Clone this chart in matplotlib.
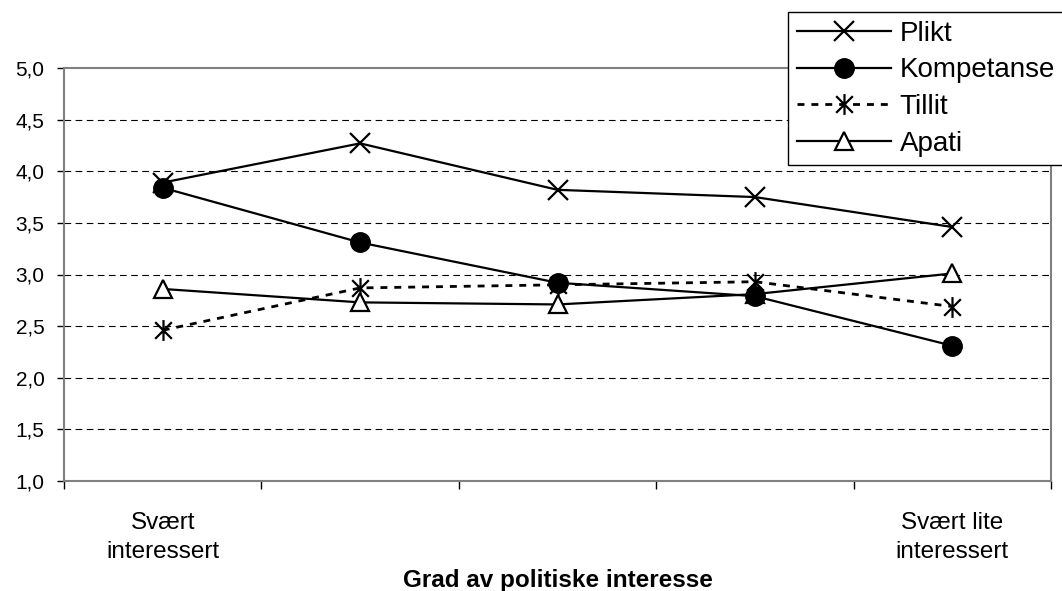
import matplotlib
matplotlib.use("Agg")
import matplotlib.pyplot as plt
from matplotlib.path import Path
import numpy as np

categories = ["Svært\ninteressert", "", "", "", "Svært lite\ninteressert"]
plikt = [3.89, 4.27, 3.82, 3.75, 3.46]
kompetanse = [3.84, 3.31, 2.92, 2.79, 2.31]
tillit = [2.46, 2.87, 2.90, 2.93, 2.69]
apati = [2.86, 2.73, 2.71, 2.81, 3.01]
y_ticks = [1.0, 1.5, 2.0, 2.5, 3.0, 3.5, 4.0, 4.5, 5.0]
y_ticklabels = ["1,0", "1,5", "2,0", "2,5", "3,0", "3,5", "4,0", "4,5", "5,0"]
x_title = "Grad av politiske interesse"

plt.rcParams['font.family'] = ['Liberation Sans', 'DejaVu Sans']

fig = plt.figure(figsize=(10.62, 5.91), dpi=100)
ax = fig.add_axes([64/1062, 1-481/591, (1051-64)/1062, (481-68)/591])

x = np.arange(len(categories))
# asterisk marker: vertical bar plus an X
star_path = Path(
    [(0, -1), (0, 1), (-0.8, -0.8), (0.8, 0.8), (-0.8, 0.8), (0.8, -0.8)],
    [Path.MOVETO, Path.LINETO, Path.MOVETO, Path.LINETO, Path.MOVETO, Path.LINETO])

ax.plot(x, plikt, color='black', lw=1.6, marker='x', markersize=14,
        markeredgewidth=1.6, label='Plikt', zorder=3)
ax.plot(x, tillit, color='black', lw=2.0, linestyle=(0, (2.5, 2.5)),
        marker=star_path, markersize=15, markeredgewidth=1.6, label='Tillit', zorder=4)
ax.plot(x, apati, color='black', lw=1.6, marker='^', markersize=13,
        markerfacecolor='white', markeredgewidth=1.6, label='Apati', zorder=5)
ax.plot(x, kompetanse, color='black', lw=1.6, marker='o', markersize=14,
        label='Kompetanse', zorder=6)

ax.set_xlim(-0.5, len(categories) - 0.5)
ax.set_ylim(1.0, 5.0)
ax.set_yticks(y_ticks)
ax.set_yticklabels(y_ticklabels, fontsize=15)
ax.tick_params(axis='y', length=5, width=1, pad=9, direction='out', color='black')

ax.set_xticks(np.arange(-0.5, len(categories)), minor=False)
ax.set_xticklabels([""] * (len(categories) + 1))
ax.tick_params(axis='x', which='major', length=6, width=1, direction='out', color='black')
ax.set_xticks(x, minor=True)
ax.set_xticklabels(categories, minor=True, fontsize=17.5, linespacing=1.45)
ax.tick_params(axis='x', which='minor', length=0, pad=22)

for yv in y_ticks[1:-1]:
    ax.axhline(yv, color='black', lw=0.8, linestyle=(0, (6, 4)), zorder=1)

for s in ax.spines.values():
    s.set_color('#808080')
    s.set_linewidth(1.5)

fig.text((64+1051)/2/1062, 1-587/591, x_title, ha='center', va='baseline',
         fontsize=17.5, fontweight='bold')

handles, labels = ax.get_legend_handles_labels()
order = ['Plikt', 'Kompetanse', 'Tillit', 'Apati']
hmap = dict(zip(labels, handles))
leg = fig.legend([hmap[k] for k in order], order, loc='upper left',
                 bbox_to_anchor=(788/1062, 1-12/591), borderaxespad=0,
                 fontsize=20, frameon=True, fancybox=False, edgecolor='black',
                 handlelength=3.4, handletextpad=0.3, labelspacing=0.38,
                 borderpad=0.32, framealpha=1)
leg.get_frame().set_linewidth(1.0)

fig.savefig("out.png", dpi=100)
